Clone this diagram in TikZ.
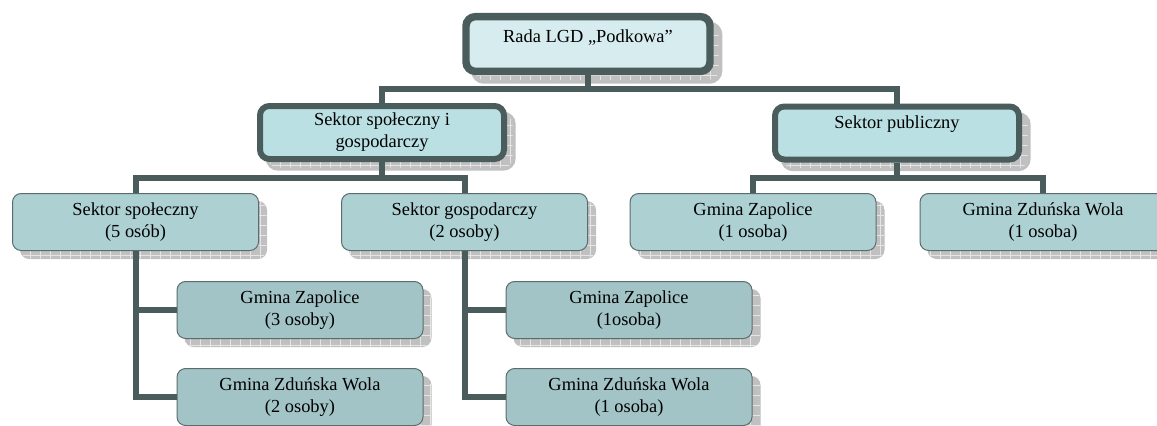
\documentclass[tikz,border=0pt]{standalone}
\usepackage{fontspec}
\setmainfont{Liberation Serif}
\usepackage{tikz}
\usepackage{xcolor}
\usetikzlibrary{calc}
\usetikzlibrary{shadows,patterns.meta}

\definecolor{edgegray}{RGB}{75,92,92}
\definecolor{thingray}{RGB}{92,108,108}
\definecolor{fillone}{RGB}{214,236,238}
\definecolor{filltwo}{RGB}{186,224,227}
\definecolor{fillthree}{RGB}{173,208,211}
\definecolor{fillfour}{RGB}{162,196,198}
\definecolor{shadowgray}{RGB}{192,192,192}

\begin{document}
\begin{tikzpicture}[x=0.75pt,y=-0.75pt,
   every node/.style={align=center,font=\fontsize{13.8}{16.5}\selectfont},
   gridshadow/.style 2 args={general shadow={fill=shadowgray,draw=shadowgray,line width=#1,
      shadow xshift=#2,shadow yshift=-#2},
      general shadow={pattern={Hatch[distance=7.5pt,line width=0.5pt]},pattern color=white!80!gray,
      shadow xshift=#2,shadow yshift=-#2}},
   boxtop/.style={draw=edgegray,line width=5.6pt,fill=fillone,rounded corners=7pt,
      minimum width=183pt,minimum height=41pt,text height=10pt,text depth=13pt,
      gridshadow={5.6pt}{6.5pt}},
   boxmid/.style={draw=edgegray,line width=4.5pt,fill=filltwo,rounded corners=7pt,
      minimum width=183pt,minimum height=39.75pt,gridshadow={4.5pt}{6.5pt}},
   boxlow/.style={draw=thingray,line width=0.75pt,fill=fillthree,rounded corners=6.5pt,
      minimum width=184.5pt,minimum height=42.75pt,gridshadow={0.75pt}{6pt}},
   boxleaf/.style={boxlow,fill=fillfour},
   link/.style={draw=edgegray,line width=4.5pt}]
\useasboundingbox (0,0) rectangle (1157,425);

\node[boxtop] (rada) at (588,44) {Rada LGD „Podkowa”};
\node[boxmid] (spgos) at (382,132.5) {Sektor społeczny i\\gospodarczy};
\node[boxmid,text height=10pt,text depth=17.5pt] (publ) at (897,133) {Sektor publiczny};

\node[boxlow] (spol) at (135.5,222) {Sektor społeczny\\(5 osób)};
\node[boxlow] (gosp) at (464.5,222) {Sektor gospodarczy\\(2 osoby)};
\node[boxlow] (zapP) at (753,222) {Gmina Zapolice\\(1 osoba)};
\node[boxlow] (zdwP) at (1043,222) {Gmina Zduńska Wola\\(1 osoba)};

\node[boxleaf] (zapS) at (300,310) {Gmina Zapolice\\(3 osoby)};
\node[boxleaf] (zdwS) at (300,397) {Gmina Zduńska Wola\\(2 osoby)};
\node[boxleaf] (zapG) at (629,310) {Gmina Zapolice\\(1osoba)};
\node[boxleaf] (zdwG) at (629,397) {Gmina Zduńska Wola\\(1 osoba)};

\coordinate (top) at (588,89);
\coordinate (midL) at (382,178);
\coordinate (midR) at (897,178);

\draw[link] (rada) -- (top);
\draw[link] (top) -| (spgos);
\draw[link] (top) -| (publ);

\draw[link] (spgos) -- (midL);
\draw[link] (midL) -| (spol);
\draw[link] (midL) -| (gosp);
\draw[link] (publ) -- (midR);
\draw[link] (midR) -| (zapP);
\draw[link] (midR) -| (zdwP);

\draw[link] (spol) |- (zapS);
\draw[link] (spol) |- (zdwS);
\draw[link] (gosp) |- (zapG);
\draw[link] (gosp) |- (zdwG);
\end{tikzpicture}
\end{document}
